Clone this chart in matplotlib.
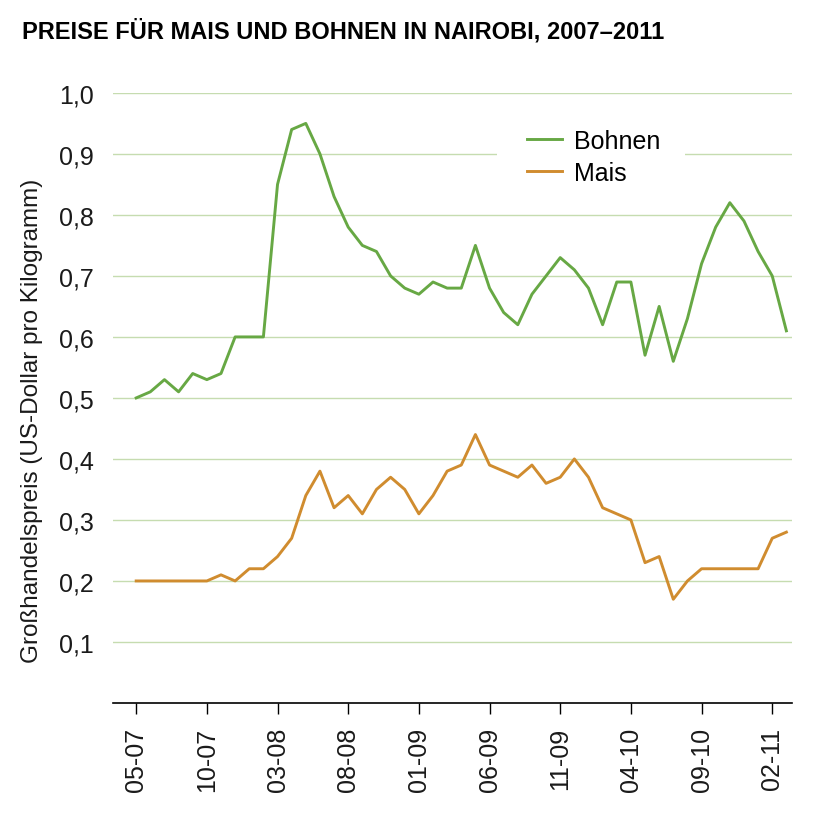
import matplotlib.pyplot as plt
from matplotlib.patches import Rectangle
from matplotlib.ticker import FixedLocator, FuncFormatter

plt.rcParams['font.family'] = ['Liberation Sans', 'DejaVu Sans']

# Monatswerte 05-07 bis 03-11 (US-Dollar pro kg)
monate = ["05-07", "06-07", "07-07", "08-07", "09-07", "10-07", "11-07", "12-07",
          "01-08", "02-08", "03-08", "04-08", "05-08", "06-08", "07-08", "08-08",
          "09-08", "10-08", "11-08", "12-08", "01-09", "02-09", "03-09", "04-09",
          "05-09", "06-09", "07-09", "08-09", "09-09", "10-09", "11-09", "12-09",
          "01-10", "02-10", "03-10", "04-10", "05-10", "06-10", "07-10", "08-10",
          "09-10", "10-10", "11-10", "12-10", "01-11", "02-11", "03-11"]

bohnen = [0.50, 0.51, 0.53, 0.51, 0.54, 0.53, 0.54, 0.60, 0.60, 0.60,
          0.85, 0.94, 0.95, 0.90, 0.83, 0.78, 0.75, 0.74, 0.70, 0.68,
          0.67, 0.69, 0.68, 0.68, 0.75, 0.68, 0.64, 0.62, 0.67, 0.70,
          0.73, 0.71, 0.68, 0.62, 0.69, 0.69, 0.57, 0.65, 0.56, 0.63,
          0.72, 0.78, 0.82, 0.79, 0.74, 0.70, 0.61]

mais = [0.20, 0.20, 0.20, 0.20, 0.20, 0.20, 0.21, 0.20, 0.22, 0.22,
        0.24, 0.27, 0.34, 0.38, 0.32, 0.34, 0.31, 0.35, 0.37, 0.35,
        0.31, 0.34, 0.38, 0.39, 0.44, 0.39, 0.38, 0.37, 0.39, 0.36,
        0.37, 0.40, 0.37, 0.32, 0.31, 0.30, 0.23, 0.24, 0.17, 0.20,
        0.22, 0.22, 0.22, 0.22, 0.22, 0.27, 0.28]

y_ticks = [0.1, 0.2, 0.3, 0.4, 0.5, 0.6, 0.7, 0.8, 0.9, 1.0]

GRUEN = "#67a844"
ORANGE = "#d08c2f"
GITTER = "#c6dcb0"

fig = plt.figure(figsize=(8.14, 8.2), dpi=100)
ax = fig.add_axes([0.139, 0.1415, 0.834, 0.744])

x = list(range(len(monate)))
ax.plot(x, bohnen, color=GRUEN, lw=2.1, label="Bohnen", zorder=3)
ax.plot(x, mais, color=ORANGE, lw=2.1, label="Mais", zorder=3)

ax.set_xlim(-1.63, 46.4)
ax.set_ylim(0, 1.0)

ax.yaxis.set_major_locator(FixedLocator(y_ticks))
ax.yaxis.set_major_formatter(FuncFormatter(lambda v, p: f"{v:.1f}".replace(".", ",")))
ax.grid(axis="y", color=GITTER, lw=1.0)
ax.set_axisbelow(True)
ax.tick_params(axis="y", length=0, pad=14, labelsize=18, colors="#1a1a1a")

ax.set_xticks(x[::5])
ax.set_xticklabels(monate[::5], rotation=90, fontsize=18, color="#1a1a1a")
ax.tick_params(axis="x", direction="out", length=8, width=1, pad=9)

for s in ["left", "right", "top"]:
    ax.spines[s].set_visible(False)
ax.spines["bottom"].set_color("black")
ax.spines["bottom"].set_linewidth(1.2)

ax.set_ylabel("Großhandelspreis (US-Dollar pro Kilogramm)", fontsize=17.5, color="#1a1a1a")
ax.yaxis.set_label_coords(-0.104, 0.464)

# weisser Hintergrund hinter der Legende (unterbricht die Gitterlinie 0,9)
ax.add_patch(Rectangle((0.5655, 0.843), 0.277, 0.111, transform=ax.transAxes,
                       facecolor="white", edgecolor="none", zorder=1))

leg = ax.legend(loc="center left", bbox_to_anchor=(0.5876, 0.895), frameon=False,
                fontsize=18, handlelength=1.4, handletextpad=0.48,
                borderpad=0.6, labelspacing=0.3, borderaxespad=0)

fig.text(0.027, 0.962, "PREISE FÜR MAIS UND BOHNEN IN NAIROBI, 2007–2011",
         fontsize=17, fontweight="bold", ha="left", va="center")

fig.savefig("out.png", dpi=100)
